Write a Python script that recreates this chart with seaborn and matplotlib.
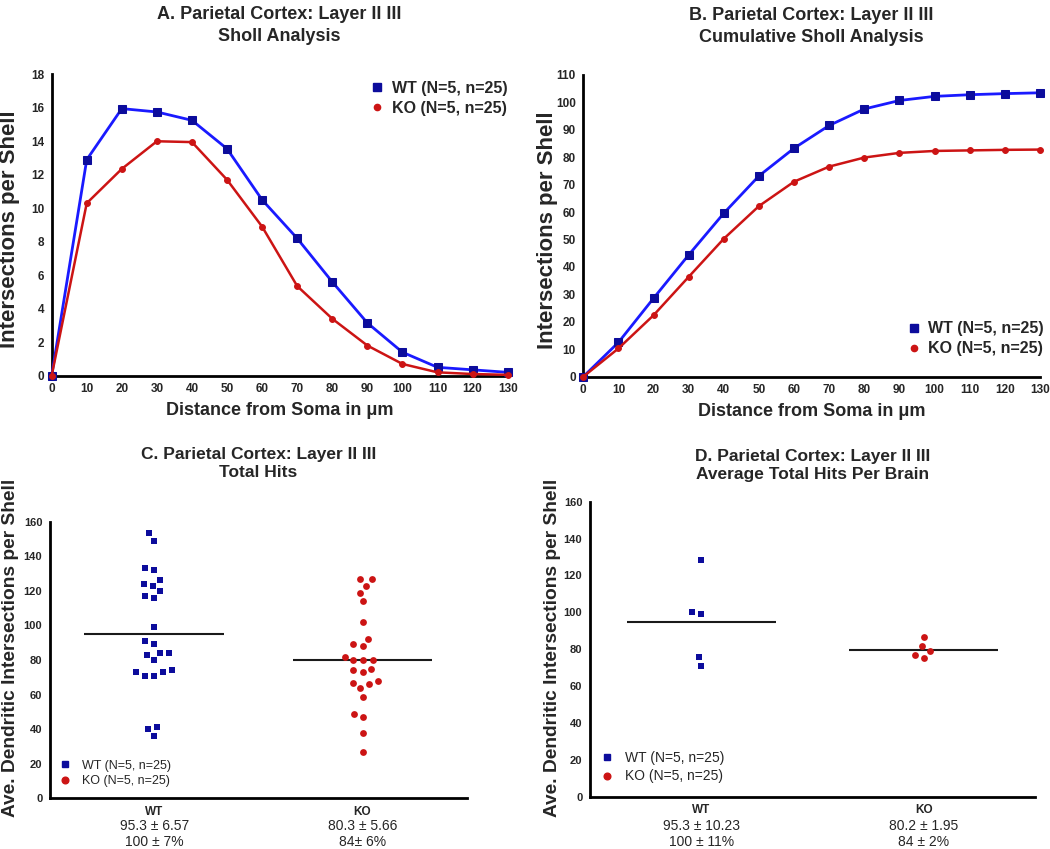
import numpy as np
import pandas as pd
import matplotlib
matplotlib.use("Agg")
import matplotlib.pyplot as plt
import seaborn as sns
from matplotlib.lines import Line2D
from matplotlib.collections import PathCollection
from matplotlib import font_manager as fm

# ---------------- data ----------------
distance = [0, 10, 20, 30, 40, 50, 60, 70, 80, 90, 100, 110, 120, 130]
wt_sholl = [0, 12.9, 15.95, 15.75, 15.25, 13.55, 10.5, 8.2, 5.6, 3.15, 1.4, 0.5, 0.35, 0.2]
ko_sholl = [0, 10.3, 12.35, 14.0, 13.95, 11.7, 8.9, 5.35, 3.4, 1.8, 0.7, 0.2, 0.1, 0.05]
wt_cum = [0, 12.5, 28.6, 44.4, 59.6, 73.2, 83.3, 91.6, 97.6, 100.7, 102.2, 102.8, 103.2, 103.5]
ko_cum = [0, 10.3, 22.4, 36.4, 50.3, 62.2, 71.1, 76.6, 79.9, 81.6, 82.3, 82.5, 82.7, 82.8]

wt_hits = [153.3, 149.0, 132.0, 133.0, 126.1, 124.1, 123.0, 119.9, 116.0, 116.8,
           98.9, 89.1, 90.8, 84.0, 82.9, 84.0, 79.8, 74.0, 72.9, 70.9,
           70.9, 72.9, 41.1, 39.9, 35.9]
ko_hits = [127.0, 127.0, 123.0, 118.9, 113.9, 101.8, 92.0, 89.1, 87.9, 79.8,
           79.8, 79.8, 74.0, 72.9, 74.8, 66.9, 63.8, 65.9, 67.8, 58.8,
           46.8, 48.7, 37.8, 26.8, 82.0]
wt_brain = [128.4, 100.3, 99.2, 75.8, 71.1]
ko_brain = [86.4, 81.6, 78.9, 76.8, 75.4]

groups = ["WT", "KO"]
hits_stats = ["95.3 \u00b1 6.57\n100 \u00b1 7%", "80.3 \u00b1 5.66\n84\u00b1 6%"]
brain_stats = ["95.3 \u00b1 10.23\n100 \u00b1 11%", "80.2 \u00b1 1.95\n84 \u00b1 2%"]
legend_labels = ["WT (N=5, n=25)", "KO (N=5, n=25)"]

titles = ["A. Parietal Cortex: Layer II III\nSholl Analysis",
          "B. Parietal Cortex: Layer II III\nCumulative Sholl Analysis",
          "C. Parietal Cortex: Layer II III\nTotal Hits",
          "D. Parietal Cortex: Layer II III\nAverage Total Hits Per Brain"]

# ---------------- style ----------------
sns.set_style("white")
names = {f.name for f in fm.fontManager.ttflist}
base = "Liberation Sans" if "Liberation Sans" in names else "DejaVu Sans"
narrow = "Liberation Sans Narrow" if "Liberation Sans Narrow" in names else base
plt.rcParams["font.family"] = [base, "DejaVu Sans"]

WT_LINE = "#1a1aff"
WT_MARK = "#0c0c9c"
KO_COL = "#cc1414"

fig = plt.figure(figsize=(10.5, 8.49), dpi=100)
axA = fig.add_axes([0.0492, 0.5575, 0.4343, 0.3550])
axB = fig.add_axes([0.5555, 0.5563, 0.4350, 0.3554])
axC = fig.add_axes([0.0476, 0.0597, 0.3969, 0.3258])
axD = fig.add_axes([0.5619, 0.0616, 0.4238, 0.3475])


def style(ax):
    for s in ["top", "right"]:
        ax.spines[s].set_visible(False)
    for s in ["left", "bottom"]:
        ax.spines[s].set_linewidth(2.0)
        ax.spines[s].set_color("black")
    ax.tick_params(direction="out", length=4, width=1.5, color="black", pad=1.5)


def line_panel(ax, wt, ko, ymax, ystep, title, leg_anchor, ylabel_x, ylabel_y):
    sns.lineplot(x=distance, y=wt, ax=ax, color=WT_LINE, lw=2.0, marker="s",
                 markersize=5.2, markerfacecolor=WT_MARK, markeredgecolor=WT_MARK,
                 clip_on=False, zorder=3)
    sns.lineplot(x=distance, y=ko, ax=ax, color=KO_COL, lw=1.8, marker="o",
                 markersize=4.2, markerfacecolor=KO_COL, markeredgecolor=KO_COL,
                 clip_on=False, zorder=4)
    ax.set_xlim(0, 130)
    ax.set_ylim(0, ymax)
    ax.set_xticks(range(0, 131, 10))
    ax.set_yticks(range(0, ymax + 1, ystep))
    for lab in ax.get_xticklabels() + ax.get_yticklabels():
        lab.set_fontweight("bold")
        lab.set_fontsize(8.5)
        lab.set_family([narrow, "DejaVu Sans"])
    style(ax)
    ax.set_xlabel("Distance from Soma in \u03bcm", fontsize=13, fontweight="bold", labelpad=5)
    ax.set_ylabel("Intersections per Shell", fontsize=16, fontweight="bold")
    ax.yaxis.set_label_coords(ylabel_x, ylabel_y)
    ax.set_title(title, fontsize=13, fontweight="bold", family=[narrow, "DejaVu Sans"],
                 pad=24, linespacing=1.35)
    handles = [Line2D([], [], ls="none", marker="s", markersize=5.5, color=WT_MARK),
               Line2D([], [], ls="none", marker="o", markersize=4.5, color=KO_COL)]
    ax.legend(handles, legend_labels, loc="upper left", bbox_to_anchor=leg_anchor,
              frameon=False, handlelength=0.8, handletextpad=0.5, labelspacing=0.3,
              borderpad=0, borderaxespad=0, prop={"weight": "bold", "size": 11.5})


line_panel(axA, wt_sholl, ko_sholl, 18, 2, titles[0], (0.70, 0.978), -0.070, 0.487)
line_panel(axB, wt_cum, ko_cum, 110, 10, titles[1], (0.71, 0.183), -0.055, 0.485)


def dot_panel(ax, wt, ko, stats, title, leg_anchor, ylabel_x, ylabel_y, fs_leg, title_pad):
    ax.set_xlim(-0.5, 1.5)
    ax.set_ylim(0, 160)
    df_wt = pd.DataFrame({"group": "WT", "value": wt})
    df_ko = pd.DataFrame({"group": "KO", "value": ko})
    sns.swarmplot(data=df_wt, x="group", y="value", order=groups, ax=ax,
                  color=WT_MARK, marker="s", size=6.4, linewidth=0, zorder=3)
    sns.swarmplot(data=df_ko, x="group", y="value", order=groups, ax=ax,
                  color=KO_COL, marker="o", size=6.4, linewidth=0, zorder=3)
    for i, vals in enumerate([wt, ko]):
        ax.hlines(np.mean(vals), i - 0.335, i + 0.335, color="#1a1a1a", lw=1.5, zorder=2)
    ax.set_xlim(-0.5, 1.5)
    ax.set_ylim(0, 160)
    ax.set_yticks(range(0, 161, 20))
    ax.set_xticks([0, 1])
    ax.set_xticklabels(groups, fontweight="bold", fontsize=8.5)
    for lab in ax.get_yticklabels():
        lab.set_fontweight("bold")
        lab.set_fontsize(8)
    style(ax)
    ax.set_xlabel("")
    ax.set_ylabel("Ave. Dendritic Intersections per Shell", fontsize=13.8, fontweight="bold")
    ax.yaxis.set_label_coords(ylabel_x, ylabel_y)
    for i, s in enumerate(stats):
        ax.text(i, -0.075, s, transform=ax.get_xaxis_transform(), ha="center", va="top",
                fontsize=10, linespacing=1.2)
    ax.set_title(title, fontsize=12.5, fontweight="bold", pad=title_pad, linespacing=1.3)
    handles = [Line2D([], [], ls="none", marker="s", markersize=4.5, color=WT_MARK),
               Line2D([], [], ls="none", marker="o", markersize=4.8, color=KO_COL)]
    ax.legend(handles, legend_labels, loc="lower left", bbox_to_anchor=leg_anchor,
              frameon=False, handlelength=0.8, handletextpad=0.9, labelspacing=0.3,
              borderpad=0, borderaxespad=0, prop={"size": fs_leg})


dot_panel(axC, wt_hits, ko_hits, hits_stats, titles[2], (0.025, 0.04), -0.075, 0.543, 9, 32)
dot_panel(axD, wt_brain, ko_brain, brain_stats, titles[3], (0.025, 0.045), -0.066, 0.504, 10, 16)

# lay out the swarms once with the spacing size, then draw the markers smaller
fig.canvas.draw()
for ax in (axC, axD):
    pts = [c for c in ax.collections
           if isinstance(c, PathCollection) and len(c.get_offsets()) > 0]
    for coll, sz in zip(pts, (4.5, 4.9)):
        if "draw" in coll.__dict__:
            del coll.__dict__["draw"]
        coll.set_sizes([sz ** 2])

fig.savefig("out.png", dpi=100)
